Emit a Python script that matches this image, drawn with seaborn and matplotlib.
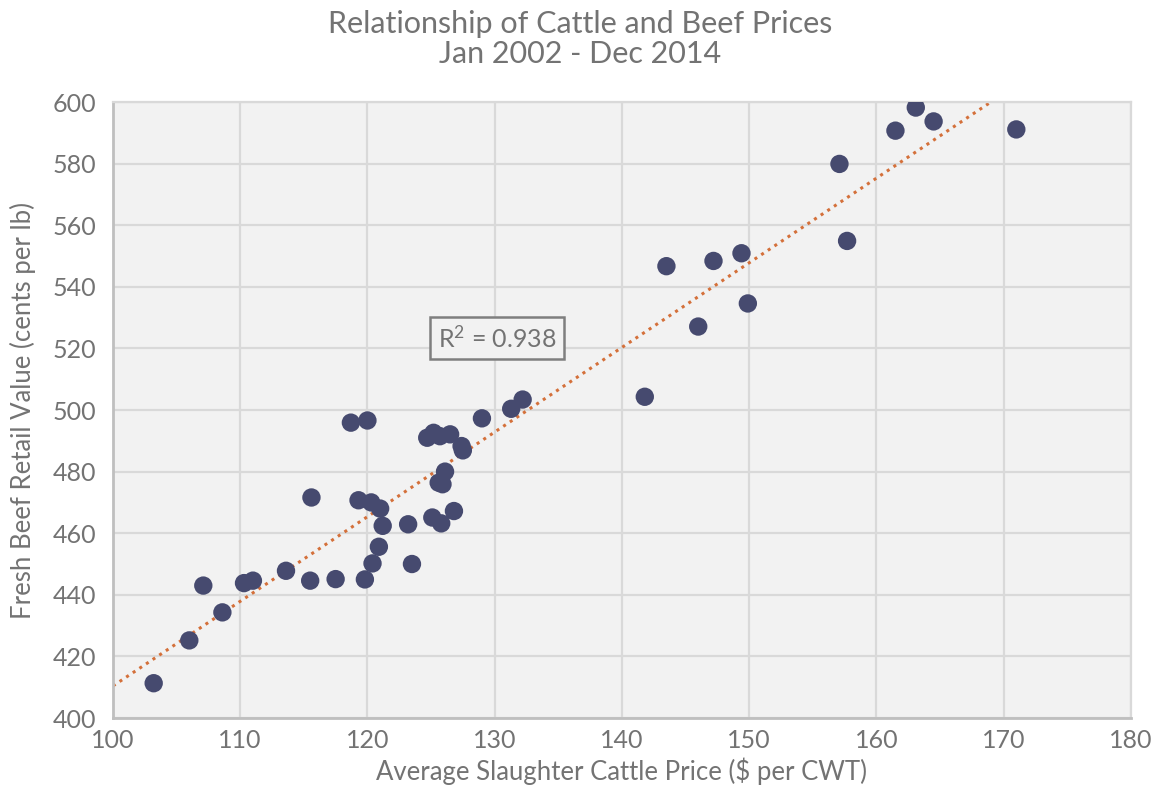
import matplotlib
matplotlib.use("Agg")
import matplotlib.pyplot as plt
import seaborn as sns
import pandas as pd

# Monthly average slaughter cattle price ($/cwt) vs fresh beef retail value (cents/lb)
cattle_price = [
    103.2, 106.0, 107.1, 108.6, 110.3, 111.0, 113.6, 115.5, 115.6, 117.5,
    119.8, 118.7, 120.0, 119.3, 120.3, 121.0, 121.2, 120.9, 120.4, 123.2,
    123.5, 125.1, 125.8, 126.8, 125.6, 125.9, 126.1, 127.4, 127.5, 124.7,
    125.2, 125.7, 126.5, 129.0, 131.3, 132.2, 141.8, 143.5, 146.0, 147.2,
    149.4, 149.9, 157.1, 157.7, 161.5, 163.1, 164.5, 171.0,
]
retail_value = [
    411.3, 425.2, 443.0, 434.3, 443.8, 444.6, 447.8, 444.6, 471.6, 445.1,
    445.0, 495.9, 496.6, 470.7, 470.0, 468.0, 462.4, 455.6, 450.2, 462.9,
    450.0, 465.1, 463.2, 467.2, 476.4, 475.9, 480.0, 488.3, 486.9, 491.0,
    492.6, 491.5, 492.1, 497.3, 500.4, 503.4, 504.3, 546.7, 527.1, 548.4,
    550.9, 534.6, 579.9, 554.9, 590.7, 598.2, 593.7, 591.1,
]
r_squared_text = "R$^\\mathregular{2}$ = 0.938"

x_ticks = list(range(100, 181, 10))
y_ticks = list(range(400, 601, 20))

df = pd.DataFrame({"cattle": cattle_price, "beef": retail_value})

sns.set_theme(style="white")
plt.rcParams["font.family"] = ["Lato", "DejaVu Sans"]
plt.rcParams["mathtext.default"] = "regular"

text_grey = "#737373"
grid_grey = "#d9d9d9"
dot_color = "#464a6f"
trend_color = "#d4703a"

fig = plt.figure(figsize=(11.61, 7.97), dpi=100)
ax = fig.add_axes([0.0973, 0.0991, 0.8767, 0.7729])
ax.set_facecolor("#f2f2f2")
ax.set_xlim(100, 180)
ax.set_ylim(400, 600)

sns.regplot(
    data=df, x="cattle", y="beef", ax=ax, ci=None, truncate=False,
    scatter_kws=dict(s=175, color=dot_color, alpha=1, edgecolor="none", zorder=3),
    line_kws=dict(color=trend_color, linestyle=(0, (1, 1.6)), linewidth=2.2, zorder=2),
)
ax.set_xlim(100, 180)
ax.set_ylim(400, 600)

ax.set_xticks(x_ticks)
ax.set_yticks(y_ticks)
ax.grid(True, color=grid_grey, linewidth=1.6, zorder=0)
ax.set_axisbelow(True)
for side in ["top", "right"]:
    ax.spines[side].set_color(grid_grey)
    ax.spines[side].set_linewidth(1.6)
for side in ["left", "bottom"]:
    ax.spines[side].set_color("#bfbfbf")
    ax.spines[side].set_linewidth(2.0)

ax.tick_params(axis="both", length=0, labelsize=18, labelcolor=text_grey)
ax.tick_params(axis="y", pad=12)
ax.tick_params(axis="x", pad=8)

ax.set_xlabel("Average Slaughter Cattle Price ($ per CWT)", fontsize=18.5,
              color=text_grey, labelpad=4)
ax.set_ylabel("Fresh Beef Retail Value (cents per lb)", fontsize=18.5,
              color=text_grey, labelpad=12)

ax.text(130.2, 523.4, r_squared_text, fontsize=18, color=text_grey,
        ha="center", va="center", zorder=4,
        bbox=dict(boxstyle="square,pad=0.3", facecolor="#f2f2f2",
                  edgecolor="#7f7f7f", linewidth=1.8))

fig.text(0.5, 0.970, "Relationship of Cattle and Beef Prices", ha="center",
         va="center", fontsize=22, color=text_grey)
fig.text(0.5, 0.932, "Jan 2002 - Dec 2014", ha="center", va="center",
         fontsize=22, color=text_grey)

fig.savefig("out.png", dpi=100, facecolor="white")
